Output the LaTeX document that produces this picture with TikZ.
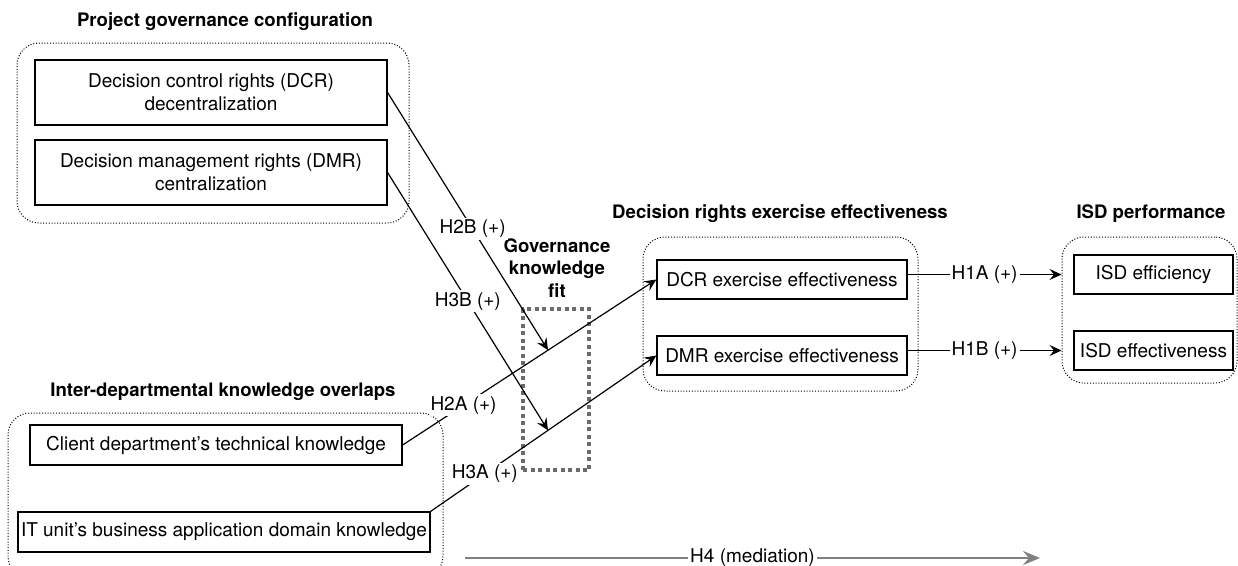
\documentclass[tikz,border=0pt]{standalone}
\usepackage{fontspec}
\setmainfont{TeX Gyre Heros}
\usetikzlibrary{positioning, arrows.meta}

\begin{document}
\begin{tikzpicture}[x=1pt, y=-1pt]
    \tikzset{
      >={Stealth[length=12pt, width=11pt, inset=4.5pt]}, % arrow heads of the hypotheses
      font=\fontsize{19}{23}\selectfont, % base text size
      box/.style={draw, line width=1.2pt, align=center, inner sep=0pt}, % construct boxes
      group/.style={draw, line width=1pt, dash pattern=on 1pt off 1.8pt, rounded corners=22pt}, % dotted groups
      title/.style={font=\fontsize{18.6}{22.5}\selectfont\bfseries, align=center}, % group headings
      hyp/.style={fill=white, inner sep=2pt}, % labels on the edges
      link/.style={->, line width=1.2pt}, % hypothesis arrows
    }

    \useasboundingbox (0,0) rectangle (1238,565);

    % groups
    \node[group, minimum width=392pt, minimum height=180pt] (pgc) at (213,133) {};
    \node[group, minimum width=435pt, minimum height=165pt] (ido) at (225.5,495.5) {};
    \node[group, minimum width=275pt, minimum height=154pt] (dree) at (780.5,314) {};
    \node[group, minimum width=175pt, minimum height=146pt] (isdp) at (1149.5,310) {};
    \node[draw=black!58, line width=4pt, dash pattern=on 4pt off 3.5pt,
          minimum width=66pt, minimum height=161pt] (gkf) at (556,389.5) {};

    % headings
    \node[title] (pgct) at (225,22) {Project governance configuration};
    \node[title] (idot) at (223,392) {Inter-departmental knowledge overlaps};
    \node[title] (dreet) at (780,214) {Decision rights exercise effectiveness};
    \node[title] (isdpt) at (1151,214) {ISD performance};
    \node[title] (gkft) at (557,268) {Governance\\knowledge\\fit};

    % constructs
    \node[box, minimum width=352pt, minimum height=65pt] (dcr) at (211,92.5)
        {Decision control rights (DCR)\\decentralization};
    \node[box, minimum width=352pt, minimum height=65pt, below of=dcr, node distance=80pt] (dmr)
        {Decision management rights (DMR)\\centralization};
    \node[box, minimum width=372pt, minimum height=40pt] (client) at (216,445)
        {Client department’s technical knowledge};
    \node[box, minimum width=412pt, minimum height=40pt] (itdom) at (224,532)
        {IT unit’s business application domain knowledge};
    \node[box, minimum width=250pt, minimum height=39pt] (dcre) at (782,279.5) {DCR exercise effectiveness};
    \node[box, minimum width=250pt, minimum height=39pt, below of=dcre, node distance=76pt] (dmre)
        {DMR exercise effectiveness};
    \node[box, minimum width=159pt, minimum height=39pt] (isdf) at (1153.5,274.5) {ISD efficiency};
    \node[box, minimum width=159pt, minimum height=39pt, below of=isdf, node distance=76pt] (isde)
        {ISD effectiveness};

    % hypotheses
    \draw[link] (client.east) -- node[hyp, pos=0.24] {H2A (+)} coordinate[pos=0.573] (h2a) (dcre.west);
    \draw[link] (itdom.north east) -- node[hyp, pos=0.24] {H3A (+)} coordinate[pos=0.52] (h3a) (dmre.west);
    \draw[link] (dcr.east) -- node[hyp, pos=0.53] {H2B (+)} (h2a);
    \draw[link] (dmr.east) -- node[hyp, pos=0.5] {H3B (+)} (h3a);
    \draw[link] (dcre.east |- isdf.west) -- node[hyp] {H1A (+)} (isdp.west |- isdf.west);
    \draw[link] (dmre.east |- isde.west) -- node[hyp] {H1B (+)} (isdp.west |- isde.west);

    % mediation
    \coordinate (h4s) at (465,558);
    \coordinate (h4e) at (1040,558);
    \draw[-{Stealth[length=17pt, width=14pt, inset=6pt]}, draw=black!50, line width=2pt]
        (h4s) -- node[hyp, text=black] {H4 (mediation)} (h4e);
\end{tikzpicture}
\end{document}
